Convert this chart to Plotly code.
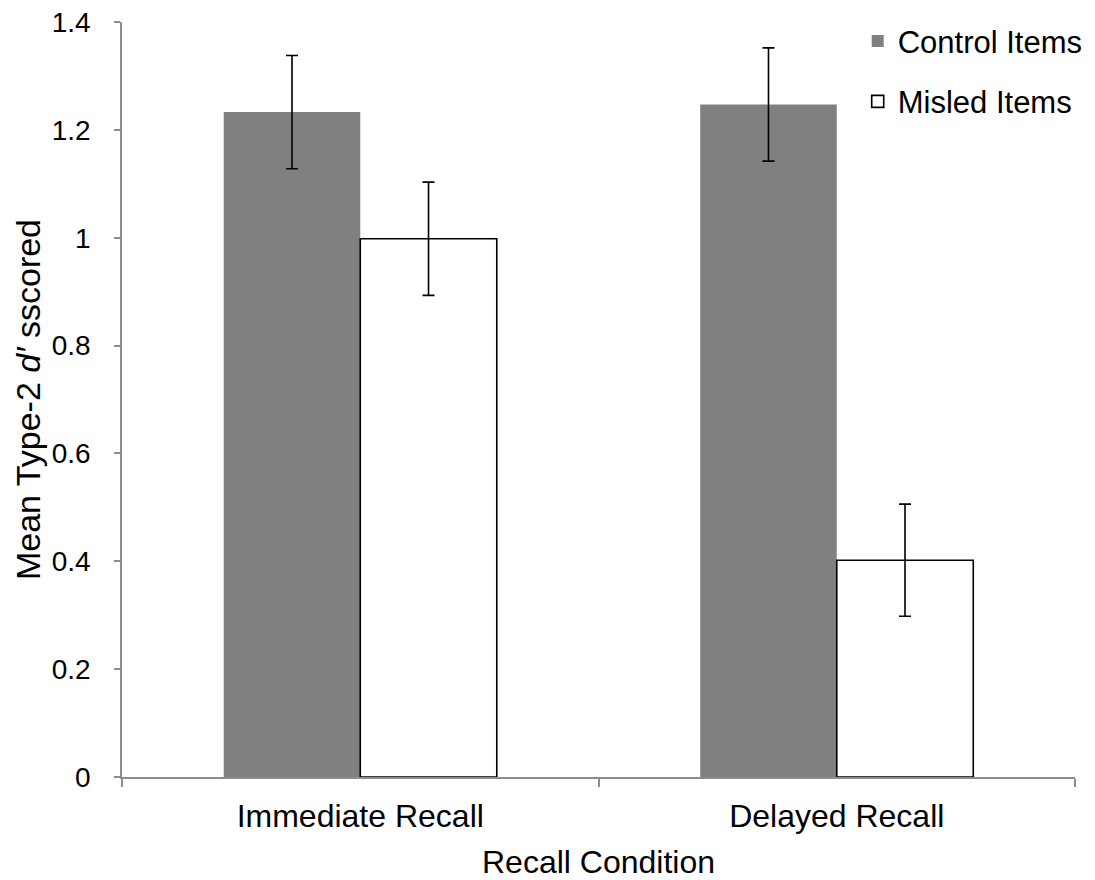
import plotly.graph_objects as go

categories = ["Immediate Recall", "Delayed Recall"]
control_values = [1.233, 1.247]
control_errors = [0.105, 0.105]
misled_values = [0.998, 0.402]
misled_errors = [0.105, 0.104]
y_ticks = [0, 0.2, 0.4, 0.6, 0.8, 1, 1.2, 1.4]

FONT = "Liberation Sans, Arial, sans-serif"
AXIS_GREY = "#8c8c8c"

fig = go.Figure()
fig.add_trace(go.Bar(
    x=categories, y=control_values, name="Control Items",
    marker=dict(color="#808080", line=dict(width=0)),
    error_y=dict(type="data", array=control_errors, color="black", thickness=1.6, width=6),
    legendgroup="a",
))
fig.add_trace(go.Bar(
    x=categories, y=misled_values, name="Misled Items",
    marker=dict(color="white", line=dict(color="black", width=1.6)),
    error_y=dict(type="data", array=misled_errors, color="black", thickness=1.6, width=6),
    legendgroup="b",
))

fig.update_layout(
    width=1095, height=880, autosize=False,
    margin=dict(l=122, r=20, t=22, b=103, autoexpand=False),
    paper_bgcolor="white", plot_bgcolor="white",
    font=dict(family=FONT, size=28, color="black"),
    barmode="group", bargap=0.427, bargroupgap=0,
    showlegend=True,
    legend=dict(
        x=0.772, y=1.01, xanchor="left", yanchor="top",
        bgcolor="rgba(0,0,0,0)", font=dict(size=31, family=FONT),
        traceorder="grouped", tracegroupgap=17, itemwidth=30,
    ),
    xaxis=dict(
        title=dict(text="Recall Condition", font=dict(size=32), standoff=17),
        showline=True, linecolor=AXIS_GREY, linewidth=1.5,
        ticks="outside", tickson="boundaries", ticklen=8, tickcolor=AXIS_GREY, tickwidth=1.5,
        tickfont=dict(size=32), ticklabelstandoff=10,
        showgrid=False, zeroline=False, automargin=False,
    ),
    yaxis=dict(
        title=dict(text="Mean Type-2 <i>d′</i> sscored", font=dict(size=34), standoff=1),
        range=[0, 1.4], tickvals=y_ticks,
        showline=True, linecolor=AXIS_GREY, linewidth=1.5,
        ticks="outside", ticklen=6, tickcolor=AXIS_GREY, tickwidth=1.5,
        tickfont=dict(size=28),
        showgrid=False, zeroline=False, ticklabelstandoff=18, automargin=False,
    ),
)

fig.write_html(
    "out.html",
    config={"responsive": False, "displayModeBar": False},
    post_script="document.body.style.margin='0';document.body.style.overflow='hidden';",
)
